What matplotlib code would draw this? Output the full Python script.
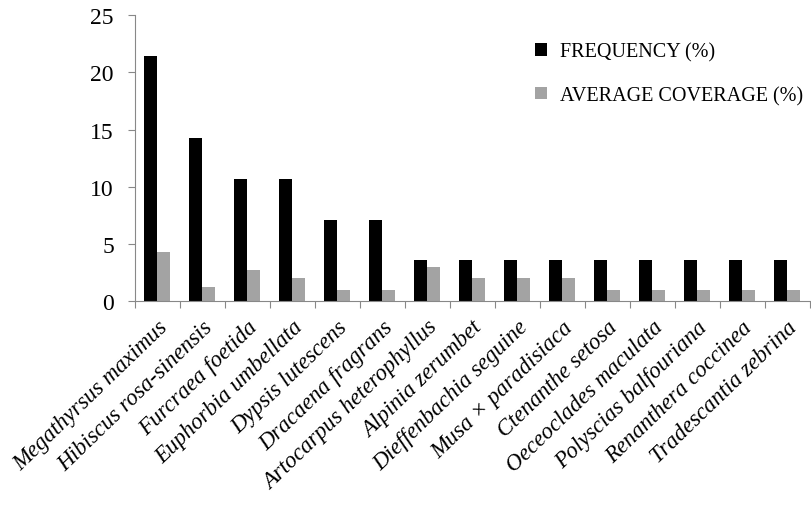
import numpy as np
import matplotlib
matplotlib.use("Agg")
import matplotlib.pyplot as plt

# species and percentages
species = [
    "Megathyrsus maximus", "Hibiscus rosa-sinensis", "Furcraea foetida",
    "Euphorbia umbellata", "Dypsis lutescens", "Dracaena fragrans",
    "Artocarpus heterophyllus", "Alpinia zerumbet", "Dieffenbachia seguine",
    "Musa \u00d7 paradisiaca", "Ctenanthe setosa", "Oeceoclades maculata",
    "Polyscias balfouriana", "Renanthera coccinea", "Tradescantia zebrina",
]
frequency = [21.4, 14.3, 10.7, 10.7, 7.1, 7.1, 3.6, 3.6, 3.6, 3.6, 3.6, 3.6, 3.6, 3.6, 3.6]
coverage = [4.3, 1.2, 2.7, 2.0, 1.0, 1.0, 3.0, 2.0, 2.0, 2.0, 1.0, 1.0, 1.0, 1.0, 1.0]

plt.rcParams["font.family"] = ["Liberation Serif", "DejaVu Serif"]

fig = plt.figure(figsize=(8.12, 5.06), dpi=100)
ax = fig.add_axes([0.166, 0.403, 0.831, 0.565])

x = np.arange(len(species))
w = 0.29
ax.bar(x - w / 2, frequency, width=w, color="black", label="FREQUENCY (%)")
ax.bar(x + w / 2, coverage, width=w, color="#a3a3a3", label="AVERAGE COVERAGE (%)")

ax.set_xlim(-0.5, len(species) - 0.5)
ax.set_ylim(0, 25)
ax.set_yticks([0, 5, 10, 15, 20, 25])
ax.tick_params(axis="y", labelsize=17, length=5, color="#888888", pad=10)

# category boundaries as tick marks, labels at the centres
ax.set_xticks(np.arange(len(species) + 1) - 0.5)
ax.set_xticklabels([])
ax.set_xticks(x, minor=True)
ax.set_xticklabels(species, minor=True, rotation=44, ha="right",
                   rotation_mode="anchor", fontstyle="italic", fontsize=16.5)
ax.tick_params(axis="x", which="major", length=5, color="#888888")
ax.tick_params(axis="x", which="minor", length=0, pad=11)

for s in ["top", "right"]:
    ax.spines[s].set_visible(False)
for s in ["left", "bottom"]:
    ax.spines[s].set_color("#888888")

ax.legend(loc="upper left", bbox_to_anchor=(0.593, 0.905), frameon=False,
          fontsize=14.5, handlelength=0.6, handleheight=0.6, borderpad=0,
          handletextpad=0.65, labelspacing=1.2, borderaxespad=0)

fig.savefig("out.png", dpi=100)
